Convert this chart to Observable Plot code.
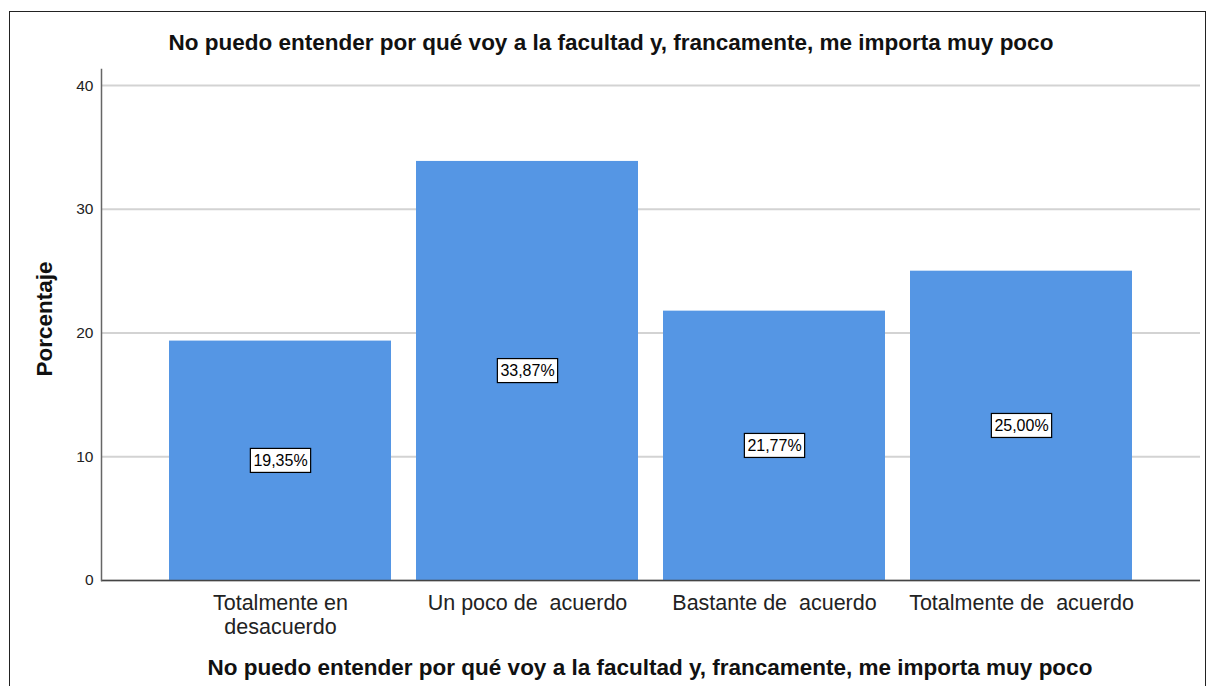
<!DOCTYPE html>
<html><head><meta charset="utf-8">
<script src="https://cdn.jsdelivr.net/npm/d3@7"></script>
<script src="https://cdn.jsdelivr.net/npm/@observablehq/plot@0.6"></script>
<style>
html,body{margin:0;padding:0;width:1207px;height:686px;overflow:hidden;background:#fff;font-family:Arial,"Liberation Sans",sans-serif;}
#frame{position:absolute;left:9px;top:11px;width:1195px;height:720px;border:1px solid #222;border-bottom:none;}
#title{position:absolute;left:0;width:1222px;top:29px;line-height:28px;text-align:center;font-weight:bold;font-size:22.5px;color:#111;}
#xtitle{position:absolute;left:0;width:1300px;top:654px;line-height:28px;text-align:center;font-weight:bold;font-size:22.5px;color:#111;}
#ylabel{position:absolute;left:45px;top:319px;line-height:28px;transform:translate(-50%,-50%) rotate(-90deg);font-weight:bold;font-size:22.5px;color:#111;white-space:nowrap;}
#chart{position:absolute;left:0;top:60px;}
svg text{white-space:pre;}
</style>
</head><body>
<div id="frame"></div>
<div id="title">No puedo entender por qué voy a la facultad y, francamente, me importa muy poco</div>
<div id="ylabel">Porcentaje</div>
<div id="chart"></div>
<div id="xtitle">No puedo entender por qué voy a la facultad y, francamente, me importa muy poco</div>
<script>
const categories = ["Totalmente en\ndesacuerdo", "Un poco de  acuerdo", "Bastante de  acuerdo", "Totalmente de  acuerdo"];
const values = [19.35, 33.87, 21.77, 25.00];
const valueLabels = ["19,35%", "33,87%", "21,77%", "25,00%"];
const yTicks = [0, 10, 20, 30, 40];

const data = categories.map((c, i) => ({cat: c, v: values[i], label: valueLabels[i]}));

const chart = Plot.plot({
  width: 1207, height: 580,
  marginTop: 9, marginBottom: 60, marginLeft: 101, marginRight: 7,
  style: {fontFamily: "Arial, 'Liberation Sans', sans-serif", background: "transparent", overflow: "visible"},
  x: {domain: categories, paddingInner: 0.1, paddingOuter: 0.27, label: null},
  y: {domain: [0, 41.3], label: null},
  marks: [
    Plot.gridY(yTicks, {stroke: "#d3d3d3", strokeOpacity: 1, strokeWidth: 2}),
    Plot.barY(data, {x: "cat", y: "v", fill: "#5596e4"}),
    Plot.ruleY([0], {stroke: "#444", strokeWidth: 1.5}),
    Plot.frame({anchor: "left", stroke: "#666", strokeWidth: 1.5}),
    Plot.axisY(yTicks, {tickSize: 0, tickPadding: 8, fontSize: 15.5, fill: "#222", label: null}),
    Plot.axisX({tickSize: 0, tickPadding: 13, fontSize: 21.5, lineHeight: 1.1, fill: "#222", label: null}),
    Plot.text(data, {x: "cat", y: d => d.v / 2, text: "label", fontSize: 16, fill: "#000"})
  ]
});
document.getElementById("chart").appendChild(chart);

// white boxes with black border behind the value labels
chart.querySelectorAll('g[aria-label="text"] text').forEach(t => {
  const b = t.getBBox();
  const r = document.createElementNS("http://www.w3.org/2000/svg", "rect");
  r.setAttribute("x", b.x - 3);
  r.setAttribute("y", b.y - 3.5);
  r.setAttribute("width", b.width + 6);
  r.setAttribute("height", b.height + 7);
  r.setAttribute("fill", "#fff");
  r.setAttribute("stroke", "#000");
  r.setAttribute("stroke-width", "1.2");
  const tr = t.getAttribute("transform");
  if (tr) r.setAttribute("transform", tr);
  t.parentNode.insertBefore(r, t);
});
</script>
</body></html>
